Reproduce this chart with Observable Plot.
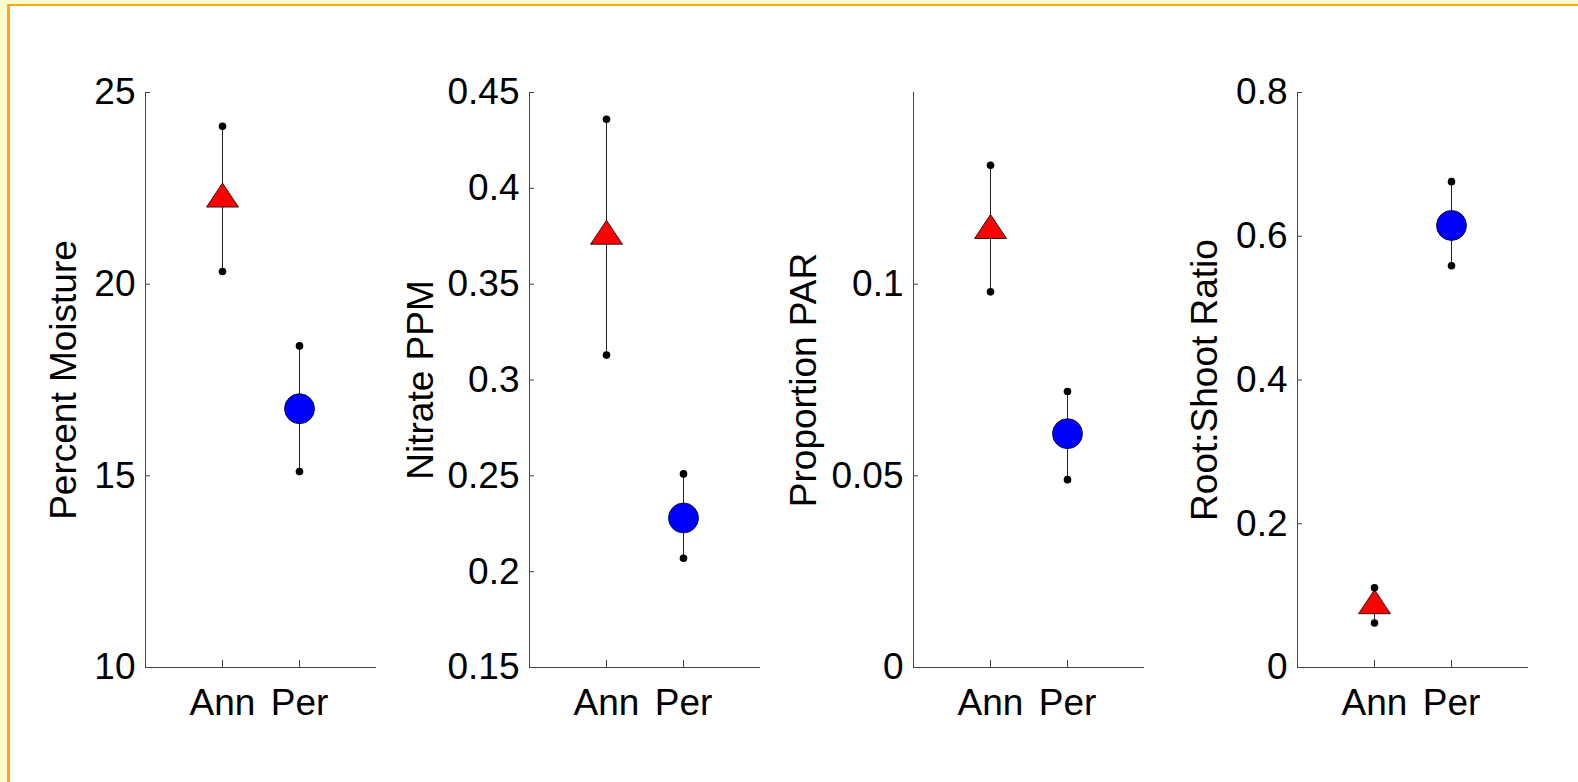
<!DOCTYPE html>
<html><head><meta charset="utf-8">
<script src="https://cdn.jsdelivr.net/npm/d3@7"></script>
<script src="https://cdn.jsdelivr.net/npm/@observablehq/plot@0.6"></script>
<style>
html,body{margin:0;padding:0;background:#fff;}
#frame{position:relative;width:1578px;height:782px;overflow:hidden;background:#FFFFCC;}
#inner{position:absolute;left:7px;top:4px;width:1600px;height:800px;background:#fff;border-left:3px solid #FFA521;border-top:2px solid #FFA521;}
#panels{position:absolute;left:0;top:0;display:flex;}
#panels svg{overflow:visible;}
</style></head><body>
<div id="frame"><div id="inner"></div><div id="panels"></div></div>
<script>
const groups = ["Ann", "Per"];
const yLabels = ["Percent Moisture", "Nitrate PPM", "Proportion PAR", "Root:Shoot Ratio"];

const moistureMean = [22.22, 16.75];
const moistureLower = [20.33, 15.11];
const moistureUpper = [24.12, 18.39];

const nitrateMean = [0.375, 0.228];
const nitrateLower = [0.313, 0.207];
const nitrateUpper = [0.436, 0.251];

const parMean = [0.114, 0.061];
const parLower = [0.098, 0.049];
const parUpper = [0.131, 0.072];

const ratioMean = [0.086, 0.615];
const ratioLower = [0.062, 0.559];
const ratioUpper = [0.111, 0.676];

const moistureTicks = [10, 15, 20, 25];
const nitrateTicks = [0.15, 0.2, 0.25, 0.3, 0.35, 0.4, 0.45];
const parTicks = [0, 0.05, 0.1];
const ratioTicks = [0, 0.2, 0.4, 0.6, 0.8];

const moistureDomain = [10, 25];
const nitrateDomain = [0.15, 0.45];
const parDomain = [0, 0.15];
const ratioDomain = [0, 0.8];

const triangleSymbol = {
  draw(ctx, size) {
    const r = Math.sqrt(size / Math.PI);
    const w = r * 2.13, h = r * 1.6;
    ctx.moveTo(0, -2 * h / 3);
    ctx.lineTo(w / 2, h / 3);
    ctx.lineTo(-w / 2, h / 3);
    ctx.closePath();
  }
};

function panel(label, mean, lower, upper, domain, ticks, labelOffset) {
  const rows = groups.map((g, i) => ({g, x: i + 1, mean: mean[i], lo: lower[i], hi: upper[i]}));
  const ends = rows.flatMap(r => [{x: r.x, y: r.lo}, {x: r.x, y: r.hi}]);
  const fmt = d3.format("~g");
  return Plot.plot({
    width: 384, height: 782,
    marginLeft: 145, marginRight: 8, marginTop: 92, marginBottom: 115,
    style: {background: "transparent", fontFamily: "'Liberation Sans', Arial, sans-serif", fontSize: "37px", color: "#000", overflow: "visible"},
    x: {domain: [0, 3]},
    y: {domain, label},
    symbol: {domain: groups, range: [triangleSymbol, d3.symbolCircle]},
    color: {domain: groups, range: ["#FF0000", "#0000FF"]},
    marks: [
      Plot.ruleX([0], {y1: domain[0], y2: domain[1], stroke: "#444", strokeWidth: 1}),
      Plot.ruleY([domain[0]], {x1: 0, x2: 3, stroke: "#444", strokeWidth: 1}),
      Plot.axisY({ticks, tickSize: -5, fill: "none", stroke: "#444", label: null}),
      Plot.axisY({ticks, tickSize: 0, tickPadding: 10, stroke: "none", fill: "#000",
        tickFormat: fmt, label, labelAnchor: "center", labelOffset, labelArrow: "none"}),
      Plot.axisX({ticks: [1, 2], tickSize: -7, fill: "none", stroke: "#444", label: null}),
      Plot.axisX({ticks: [1, 2], tickSize: 0, tickPadding: 21, stroke: "none", fill: "#000",
        tickFormat: d => groups[d - 1], label: null}),
      Plot.ruleX(rows, {x: "x", y1: "lo", y2: "hi", stroke: "#222", strokeWidth: 1}),
      Plot.dot(rows, {x: "x", y: "mean", symbol: "g", fill: "g", r: 15, stroke: "#000", strokeWidth: 0.8}),
      Plot.dot(ends, {x: "x", y: "y", r: 3.8, fill: "#000", stroke: "none"})
    ]
  });
}

const container = document.getElementById("panels");
container.append(
  panel(yLabels[0], moistureMean, moistureLower, moistureUpper, moistureDomain, moistureTicks, 96),
  panel(yLabels[1], nitrateMean, nitrateLower, nitrateUpper, nitrateDomain, nitrateTicks, 123),
  panel(yLabels[2], parMean, parLower, parUpper, parDomain, parTicks, 124),
  panel(yLabels[3], ratioMean, ratioLower, ratioUpper, ratioDomain, ratioTicks, 107)
);
</script>
</body></html>
